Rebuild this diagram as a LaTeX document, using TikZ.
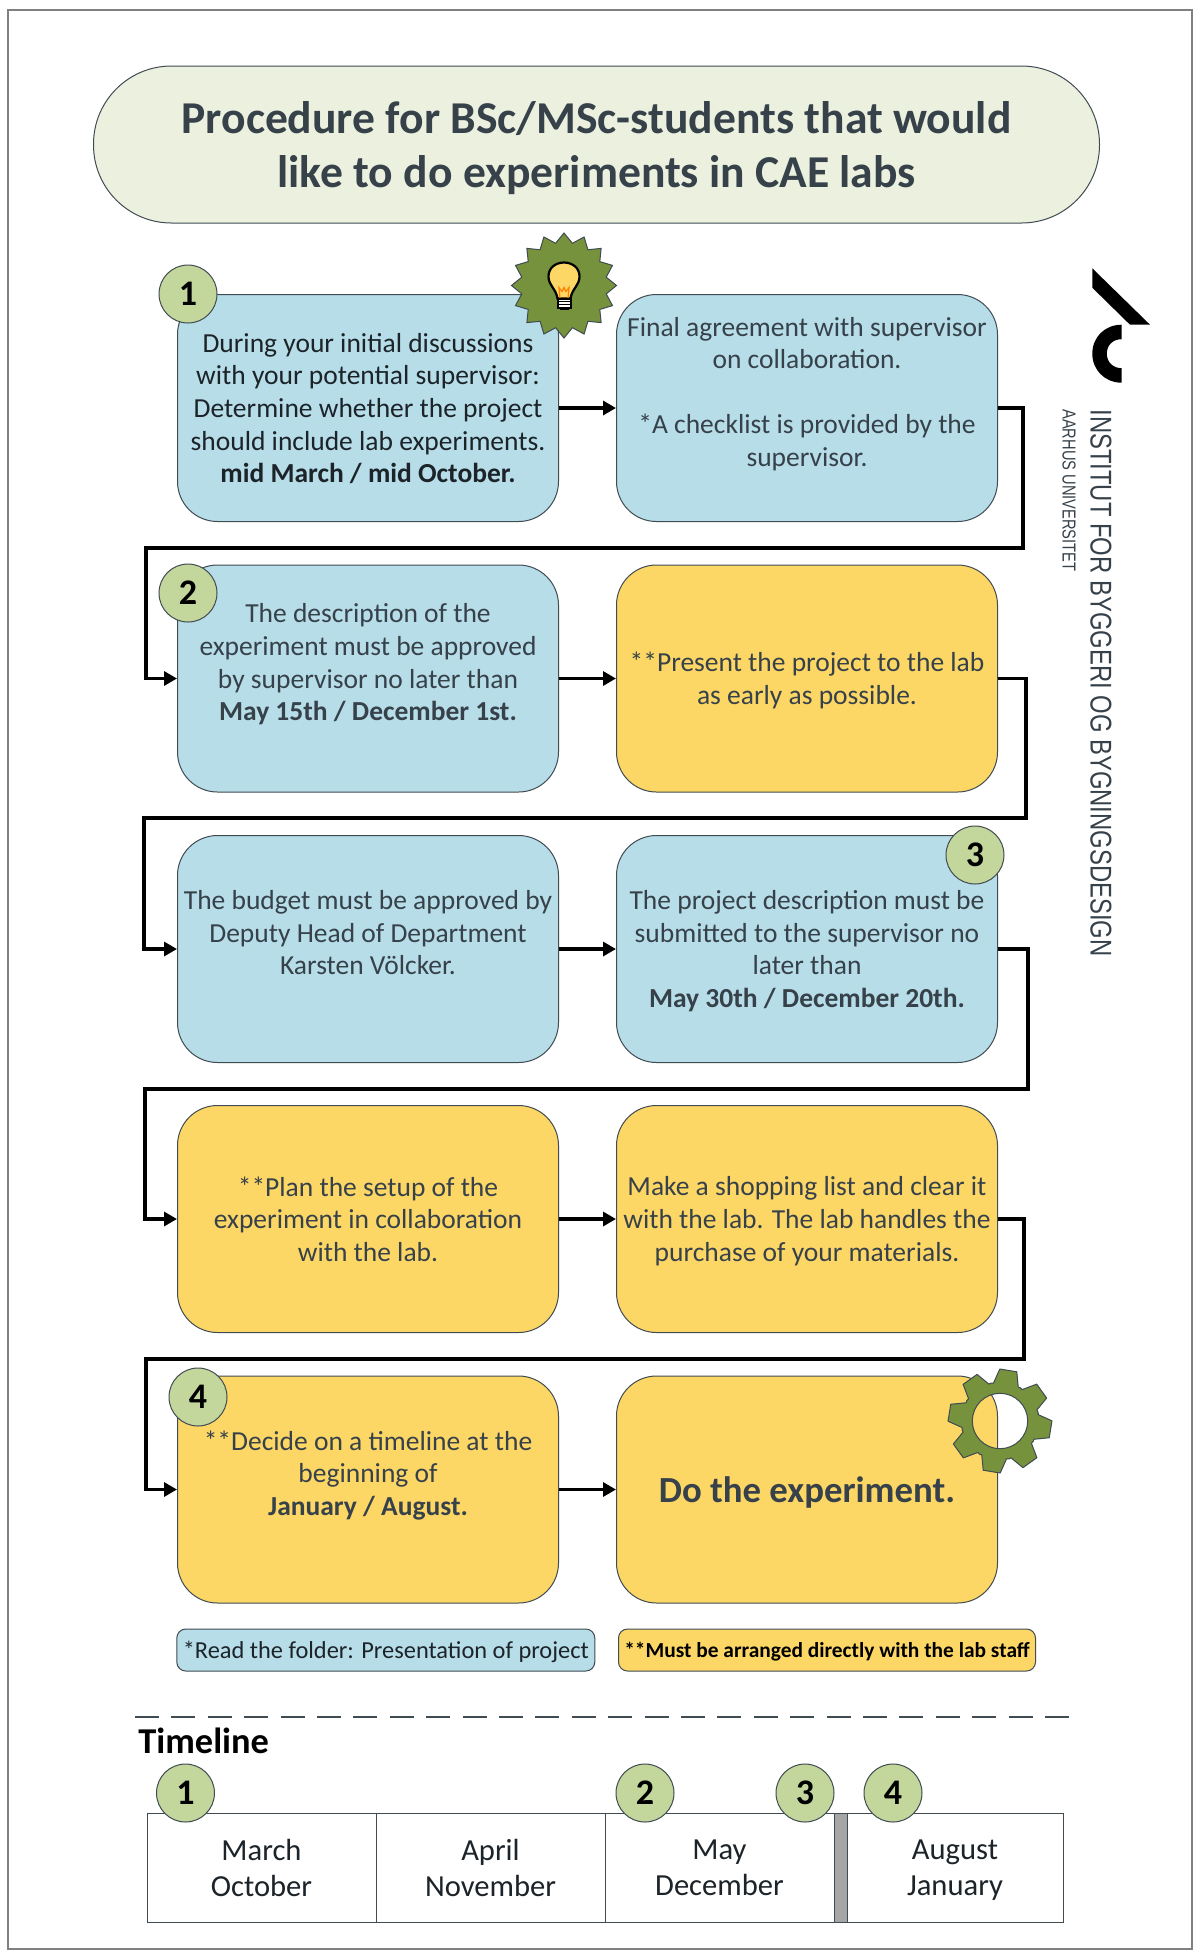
\documentclass[tikz,border=0pt]{standalone}
\usepackage{fontspec}
\setmainfont{Carlito}
\newfontfamily\logofont[FakeStretch=0.795]{Liberation Sans}
\newfontfamily\logofontb[FakeStretch=0.78]{Liberation Sans}
\usetikzlibrary{arrows.meta,shapes.geometric}
\definecolor{boxblue}{HTML}{B7DDE8}
\definecolor{boxyellow}{HTML}{FDD766}
\definecolor{titlegreen}{HTML}{EBF1DE}
\definecolor{badgegreen}{HTML}{C3D69B}
\definecolor{olive}{HTML}{76923C}
\definecolor{edge}{HTML}{404B52}
\definecolor{ink}{HTML}{36414A}
\definecolor{inkdark}{HTML}{1C2329}
\tikzset{
  x=0.5pt,y=-0.5pt,
  procbox/.style={text depth=0pt,draw=edge,line width=0.5pt,rounded corners=20pt,minimum width=190.5pt,minimum height=113.5pt,inner sep=0pt,align=center,text=ink,font=\fontsize{13.75}{16.3}\selectfont},
  bluebox/.style={procbox,fill=boxblue},
  yellowbox/.style={procbox,fill=boxyellow},
  badge/.style={circle,draw=edge,line width=0.5pt,fill=badgegreen,minimum size=29pt,inner sep=0pt,text=black,font=\fontsize{18}{20}\selectfont\bfseries},
  flow/.style={line width=1.6pt,draw=black,-{Triangle[length=6.5pt,width=7pt]}},
  legendbox/.style={text depth=0pt,draw=edge,line width=0.5pt,rounded corners=4.5pt,minimum height=21pt,inner sep=0pt,align=center,font=\fontsize{12.2}{14}\selectfont},
  cell/.style={text depth=0pt,draw=edge,line width=0.5pt,fill=white,minimum height=54.5pt,inner sep=0pt,align=center,text=inkdark,font=\fontsize{15.3}{18}\selectfont},
}
\begin{document}
\begin{tikzpicture}
\useasboundingbox (0,0) rectangle (1200,1956);
\fill[white] (0,0) rectangle (1200,1956);
\draw[draw=gray,line width=0.6pt] (8,10) rectangle (1192,1949);
% title
\node[text depth=0pt,name=title,draw=edge,line width=0.5pt,fill=titlegreen,rounded corners=39pt,minimum width=503pt,minimum height=78.5pt,inner sep=0pt,align=center,text=ink,font=\fontsize{22.8}{27.4}\selectfont\bfseries] at (596.5,144.5) {Procedure for BSc/MSc-students that would\\like to do experiments in CAE labs};
% boxes
\node[bluebox,text=inkdark] (a1) at (368,408) {During your initial discussions\\with your potential supervisor:\\Determine whether the project\\should include lab experiments.\\\textbf{mid March / mid October.}};
\node[bluebox] (a2) at (807,408) {Final agreement with supervisor\\on collaboration.\\\mbox{}\\*A checklist is provided by the\\supervisor.\\\mbox{}};
\node[bluebox] (b1) at (368,678.5) {The description of the\\experiment must be approved\\by supervisor no later than\\\textbf{May 15th / December 1st.}\\\mbox{}};
\node[yellowbox] (b2) at (807,678.5) {**Present the project to the lab\\as early as possible.};
\node[bluebox] (c1) at (368,949) {The budget must be approved by\\Deputy Head of Department\\Karsten Völcker.\\\mbox{}};
\node[bluebox] (c2) at (807,949) {The project description must be\\submitted to the supervisor no\\later than\\\textbf{May 30th / December 20th.}};
\node[yellowbox] (d1) at (368,1219) {**Plan the setup of the\\experiment in collaboration\\with the lab.};
\node[yellowbox] (d2) at (807,1219) {Make a shopping list and clear it\\with the lab. The lab handles the\\purchase of your materials.};
\node[yellowbox] (e1) at (368,1489.5) {**Decide on a timeline at the\\beginning of\\\textbf{January / August.}\\\mbox{}};
\node[yellowbox,font=\fontsize{18.4}{22}\selectfont\bfseries] (e2) at (807,1489.5) {Do the experiment.};
% turning points
\coordinate (r1) at (1023,548); \coordinate (l1) at (146,548);
\coordinate (r2) at (1026,818); \coordinate (l2) at (144,818);
\coordinate (r3) at (1028,1089); \coordinate (l3) at (145,1089);
\coordinate (r4) at (1024,1359); \coordinate (l4) at (146,1359);
% connectors
\draw[flow] (a1) -- (a2);
\draw[flow] (b1) -- (b2);
\draw[flow] (c1) -- (c2);
\draw[flow] (d1) -- (d2);
\draw[flow] (e1) -- (e2);
\draw[flow] (a2.east) -| (r1) -- (l1) |- (b1.west);
\draw[flow] (b2.east) -| (r2) -- (l2) |- (c1.west);
\draw[flow] (c2.east) -| (r3) -- (l3) |- (d1.west);
\draw[flow] (d2.east) -| (r4) -- (l4) |- (e1.west);
% badges
\node[badge] (n1) at (188,294) {1};
\node[badge] (n2) at (188,593) {2};
\node[badge] (n3) at (975,855) {3};
\node[badge] (n4) at (198,1397) {4};
% lightbulb seal
\node[star,star points=16,star point ratio=1.22,draw=edge,line width=0.5pt,fill=olive,minimum size=52.5pt,inner sep=0pt] (seal) at (564,285.5) {};
\begin{scope}[shift={(564,285.5)}]
  \draw[black,line width=1.1pt,fill=boxyellow] (-6.5,13) .. controls (-8,3) and (-15.5,0) .. (-15.5,-9) .. controls (-15.5,-18) and (-8,-23) .. (0,-23) .. controls (8,-23) and (15.5,-18) .. (15.5,-9) .. controls (15.5,0) and (8,3) .. (6.5,13) -- cycle;
  \draw[orange,line width=0.6pt] (-4,13) -- (-5,2) -- (-2,6) -- (0,2) -- (2,6) -- (5,2) -- (4,13);
  \draw[black,line width=1pt,fill=white] (-6.5,13) rectangle (6.5,22);
  \draw[black,line width=0.5pt] (-6.5,16) -- (6.5,16) (-6.5,19) -- (6.5,19);
  \fill[black] (-4.5,22) rectangle (4.5,24);
\end{scope}
% gear
\begin{scope}[shift={(1000,1421)}]
  \path[draw=edge,line width=0.5pt,fill=olive,even odd rule,line join=round]
    (-10.7:39)
    \foreach \t in {9.3,54.3,99.3,144.3,189.3,234.3,279.3,324.3}{
      -- ({\t-19}:38.5) -- ({\t-9.5}:52) -- ({\t+9.5}:52) -- ({\t+19}:38.5) -- ({\t+22.5}:39)
    } -- cycle
    (0,0) circle[radius=27.7];
\end{scope}
% legends
\node[legendbox,fill=boxblue,minimum width=209pt,text=inkdark] (lg1) at (385.8,1650) {*Read the folder: Presentation of project};
\node[legendbox,fill=boxyellow,minimum width=208.5pt,text=black,font=\fontsize{10.7}{13}\selectfont\bfseries] (lg2) at (827,1650) {**Must be arranged directly with the lab staff};
% dashed rule
\coordinate (ds) at (135,1717); \coordinate (de) at (1069,1717);
\draw[draw=edge,line width=0.8pt,dash pattern=on 12pt off 6.2pt] (ds) -- (de);
\node[anchor=west,inner sep=0pt,text=black,font=\fontsize{18.2}{22}\selectfont\bfseries] (tl) at (138,1741) {Timeline};
% timeline table
\node[cell,minimum width=114.5pt] (t1) at (261.5,1867.5) {March\\October};
\node[cell,minimum width=114.5pt] (t2) at (490.5,1867.5) {April\\November};
\node[cell,minimum width=114.5pt] (t3) at (719.5,1867.5) {May\\December};
\node[cell,minimum width=6.5pt,fill=gray!70] (tb) at (840.5,1867.5) {};
\node[cell,minimum width=108pt] (t4) at (955,1867.5) {August\\January};
\node[badge] (m1) at (185.5,1793) {1};
\node[badge] (m2) at (645,1793) {2};
\node[badge] (m3) at (805,1793) {3};
\node[badge] (m4) at (893,1793) {4};
% logo
\fill[black] (1092.3,268.3) -- (1150,324.7) -- (1130,324.7) -- (1092.3,287.7) -- cycle;
\fill[black] (1121.7,324.7) .. controls (1105,324.7) and (1092.3,337) .. (1092.3,353.7) .. controls (1092.3,370) and (1105,382.7) .. (1121.7,382.7) -- (1121.7,368.2) .. controls (1113,368.2) and (1106.8,362) .. (1106.8,353.7) .. controls (1106.8,345) and (1113,339.2) .. (1121.7,339.2) -- cycle;
\node[rotate=-90,anchor=west,inner sep=0pt,text=ink,font=\logofont\fontsize{15}{17}\selectfont] (inst) at (1101,409) {INSTITUT FOR BYGGERI OG BYGNINGSDESIGN};
\node[rotate=-90,anchor=west,inner sep=0pt,text=ink,font=\logofontb\fontsize{9.4}{11}\selectfont] (univ) at (1069,409) {AARHUS UNIVERSITET};
\end{tikzpicture}
\end{document}
